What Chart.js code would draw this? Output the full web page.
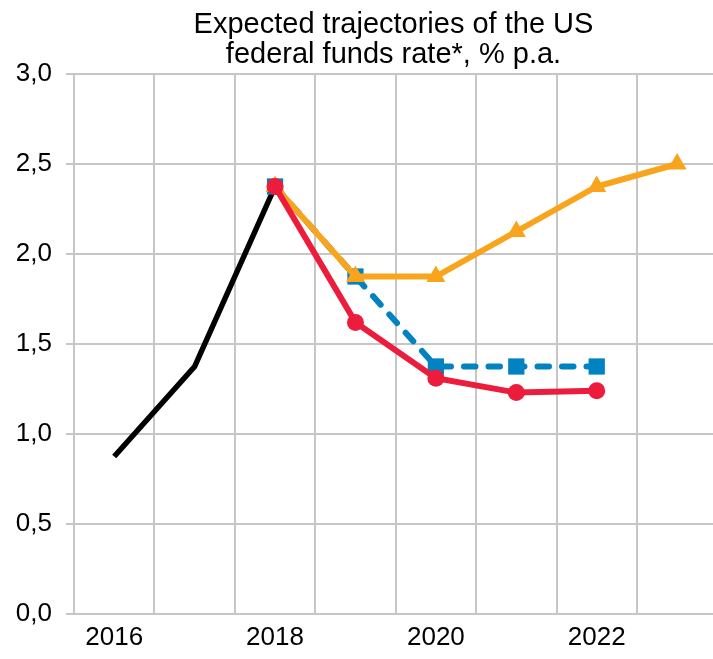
<!DOCTYPE html>
<html>
<head>
<meta charset="utf-8">
<script src="https://cdn.jsdelivr.net/npm/chart.js@4"></script>
<style>
  html, body { margin: 0; padding: 0; background: #fff; }
  #wrap { width: 713px; height: 659px; }
</style>
</head>
<body>
<div id="wrap"><canvas id="c" width="713" height="659"></canvas></div>
<script>
// ---- data ----
const years = [2016, 2017, 2018, 2019, 2020, 2021, 2022, 2023];
const actualRate = [0.875, 1.375, 2.375, null, null, null, null, null];
const blueForecast = [null, null, 2.375, 1.875, 1.375, 1.375, 1.375, null];
const orangeForecast = [null, null, 2.375, 1.875, 1.875, 2.125, 2.375, 2.5];
const redForecast = [null, null, 2.375, 1.62, 1.31, 1.23, 1.24, null];
const xLabelYears = [2016, 2018, 2020, 2022];
const yTickValues = [0, 0.5, 1.0, 1.5, 2.0, 2.5, 3.0];
const titleLines = ['Expected trajectories of the US', 'federal funds rate*, % p.a.'];

const toPts = arr => years.map((y, i) => ({ x: y, y: arr[i] }));

const FONT = "'Liberation Sans', Arial, sans-serif";
const GRID = '#c6c6c6';

new Chart(document.getElementById('c'), {
  type: 'line',
  data: {
    datasets: [
      {
        label: 'red', data: toPts(redForecast), order: 0,
        borderColor: '#ec1c3c', backgroundColor: '#ec1c3c', borderWidth: 6,
        pointStyle: 'circle', pointRadius: 8.5, pointBorderWidth: 0,
        tension: 0
      },
      {
        label: 'orange', data: toPts(orangeForecast), order: 1,
        borderColor: '#f8a51d', backgroundColor: '#f8a51d', borderWidth: 6,
        pointStyle: 'triangle', pointRadius: 11, pointBorderWidth: 0,
        tension: 0
      },
      {
        label: 'blue', data: toPts(blueForecast), order: 2,
        borderColor: '#0283c1', backgroundColor: '#0283c1', borderWidth: 6,
        borderDash: [11.5, 13], borderCapStyle: 'round',
        pointStyle: 'rect', pointRadius: 11.5, pointBorderWidth: 0,
        tension: 0
      },
      {
        label: 'actual', data: toPts(actualRate), order: 3,
        borderColor: '#000000', borderWidth: 5.5, pointRadius: 0,
        tension: 0
      }
    ]
  },
  options: {
    responsive: false,
    animation: false,
    devicePixelRatio: 1,
    layout: { autoPadding: false, padding: { left: 0, right: 0, top: 0, bottom: 0 } },
    plugins: {
      legend: { display: false },
      tooltip: { enabled: false },
      title: {
        display: true,
        text: titleLines,
        fullSize: false,
        color: '#000',
        font: { family: FONT, size: 29, weight: 'normal', lineHeight: 30 / 29 },
        padding: { top: 10, bottom: 4 }
      }
    },
    scales: {
      x: {
        type: 'linear',
        min: 2015.5,
        max: 2023.446,
        afterBuildTicks: axis => {
          const t = [];
          for (let v = 2016; v <= 2023.01; v += 0.5) t.push({ value: v });
          axis.ticks = t;
        },
        afterFit: s => { s.height = 45; s.paddingLeft = 0; s.paddingRight = 0; },
        ticks: {
          autoSkip: false, maxRotation: 0, minRotation: 0,
          color: '#000', font: { family: FONT, size: 26 }, padding: 8,
          callback: v => xLabelYears.includes(v) ? String(v) : ''
        },
        grid: {
          drawTicks: false,
          lineWidth: 2,
          color: ctx => (ctx.tick && Math.abs(ctx.tick.value % 1 - 0.5) < 1e-6) ? GRID : 'rgba(0,0,0,0)'
        },
        border: { display: true, color: GRID, width: 2 }
      },
      y: {
        type: 'linear',
        min: 0, max: 3,
        afterBuildTicks: axis => { axis.ticks = yTickValues.map(v => ({ value: v })); },
        afterFit: s => { s.width = 74; s.paddingTop = 0; s.paddingBottom = 0; },
        ticks: {
          color: '#000', font: { family: FONT, size: 26 }, padding: 14,
          callback: v => Number(v).toFixed(1).replace('.', ',')
        },
        grid: { color: GRID, lineWidth: 2, drawTicks: true, tickLength: 8 },
        border: { display: true, color: GRID, width: 2 }
      }
    }
  }
});
</script>
</body>
</html>
